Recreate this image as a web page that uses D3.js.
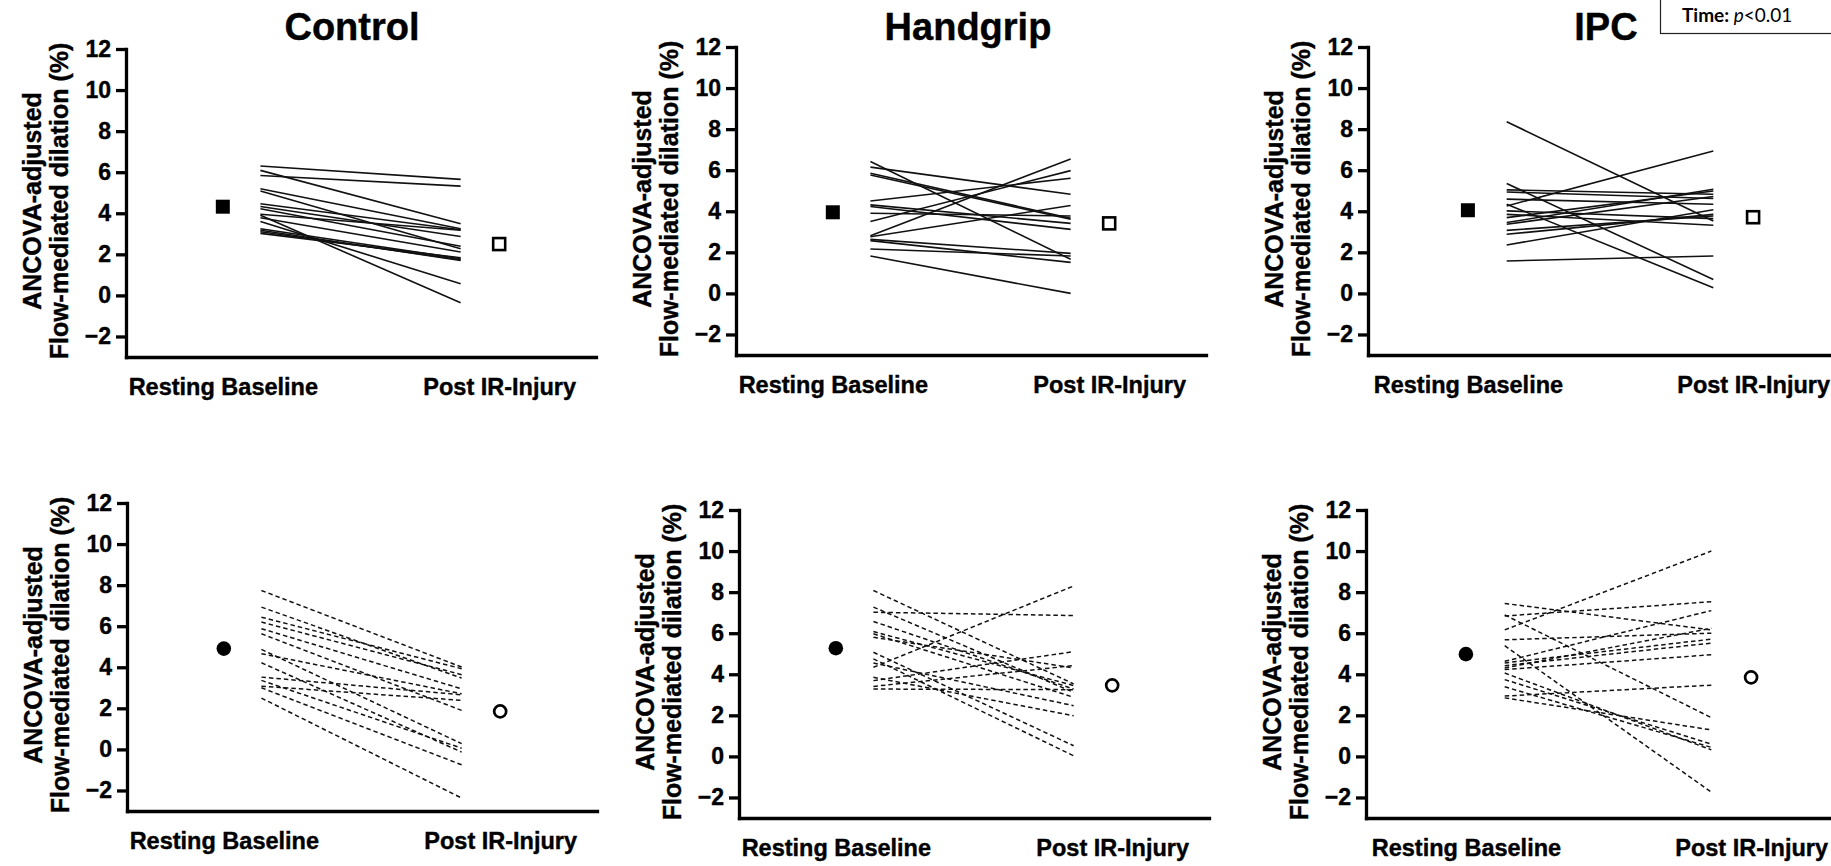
<!DOCTYPE html>
<html>
<head>
<meta charset="utf-8">
<script src="https://cdn.jsdelivr.net/npm/d3@7"></script>
<style>
    body { margin: 0; background: #ffffff; }
    svg { display: block; font-family: "Liberation Sans", Arial, sans-serif; }
</style>
</head>
<body>
<div id="figure_container"></div>
<script>

var groups = ['Control', 'Handgrip', 'IPC']
var categories = ['Resting Baseline', 'Post IR-Injury']
var y_ticks = [-2, 0, 2, 4, 6, 8, 10, 12]

// top row: individual subjects (solid lines)
var control_top_pre   = [6.30, 5.84, 6.09, 5.19, 5.08, 4.46, 4.33, 4.22, 3.95, 3.78, 3.60, 3.90, 3.25, 3.17, 3.10, 3.02]
var control_top_post  = [5.65, 5.32, 3.49, 3.25, 2.27, 3.20, 2.87, 2.39, 3.17, 2.11, 0.57, -0.36, 1.79, 1.70, 1.74, 1.83]
var handgrip_top_pre  = [6.42, 6.15, 5.85, 5.77, 4.50, 4.31, 4.23, 3.90, 3.50, 2.81, 2.76, 2.63, 2.57, 2.16, 1.82]
var handgrip_top_post = [1.66, 4.83, 3.66, 3.61, 5.61, 3.41, 3.12, 3.77, 5.98, 6.55, 4.28, 1.95, 1.51, 1.82, 0.00]
var ipc_top_pre       = [8.36, 5.35, 5.04, 4.94, 4.59, 4.34, 4.26, 4.02, 3.85, 3.69, 3.45, 3.37, 3.07, 2.88, 2.36, 1.58]
var ipc_top_post      = [3.53, 0.68, 4.83, 4.62, 4.34, 0.28, 6.94, 3.64, 3.32, 4.99, 5.07, 4.72, 3.77, 3.85, 4.07, 1.82]

// bottom row: individual subjects (dashed lines)
var control_bottom_pre   = [7.74, 6.93, 6.44, 6.20, 5.88, 5.63, 4.87, 4.66, 4.22, 3.52, 3.36, 3.08, 3.00, 2.50]
var control_bottom_post  = [4.01, 3.47, 3.93, 3.64, 2.95, 1.90, 0.28, 2.71, -0.13, 2.66, 0.06, 2.39, -0.75, -2.37]
var handgrip_bottom_pre  = [8.08, 7.27, 7.02, 6.57, 6.08, 5.97, 5.80, 5.07, 4.75, 4.55, 4.34, 3.85, 3.69, 3.41, 3.28]
var handgrip_bottom_post = [3.53, 3.12, 6.86, 3.28, 3.45, 2.88, 4.31, 0.52, 0.03, 2.47, 8.30, 1.98, 5.10, 4.42, 3.25]
var ipc_bottom_pre       = [7.45, 6.89, 6.84, 6.16, 5.68, 5.39, 4.63, 4.55, 4.42, 4.31, 4.23, 4.06, 3.74, 3.39, 2.94, 2.85]
var ipc_bottom_post      = [6.16, 1.89, 7.53, 10.0, 6.00, -1.74, 7.10, 5.71, 5.52, 6.24, 4.95, 0.32, 0.60, 0.44, 3.47, 1.29]

// group means (markers)
var means_top_pre     = [4.32, 3.95, 4.05]
var means_top_post    = [2.50, 3.41, 3.71]
var means_bottom_pre  = [4.91, 5.27, 4.98]
var means_bottom_post = [1.85, 3.46, 3.85]


var width = 1831,
    height = 866,
    plot_height = 308

// x positions inside every panel (domain 0..5)
var x_mean_pre = 1.03, x_line_pre = 1.43, x_line_post = 3.56, x_mean_post = 3.97

var svg = d3.select("#figure_container")
                .append("svg")
                .attr("width", width)
                .attr("height", height)

var panels = [
    {g: 0, row: 'top', pre: control_top_pre, post: control_top_post, left: 126, top: 49, w: 470, title_dx: 226},
    {g: 1, row: 'top', pre: handgrip_top_pre, post: handgrip_top_post, left: 736, top: 47, w: 470, title_dx: 232},
    {g: 2, row: 'top', pre: ipc_top_pre, post: ipc_top_post, left: 1368, top: 47, w: 485, title_dx: 238},
    {g: 0, row: 'bottom', pre: control_bottom_pre, post: control_bottom_post, left: 127, top: 503, w: 470},
    {g: 1, row: 'bottom', pre: handgrip_bottom_pre, post: handgrip_bottom_post, left: 739, top: 510, w: 470},
    {g: 2, row: 'bottom', pre: ipc_bottom_pre, post: ipc_bottom_post, left: 1366, top: 510, w: 485}
]

function bold_text(sel, size){
    sel.attr("font-family", "'Liberation Sans', Arial, sans-serif")
        .attr("font-size", size)
        .attr("font-weight", "bold")
        .attr("fill", "#000")
        .attr("stroke", "#000")
        .attr("stroke-width", 0.4)
}

function draw_panel(p){

    var g = svg.append("g")
                .attr("transform", "translate(" + p.left + "," + p.top + ")")

    var x = d3.scaleLinear()
                .domain([0, 5])
                .range([0, p.w])

    var y = d3.scaleLinear()
                .domain([-3, 12])
                .range([plot_height, 0])

    // subject lines
    g.selectAll(".subject_line")
        .data(p.pre.map(function(d, i){ return [d, p.post[i]] }))
        .enter()
        .append("line")
            .attr("class", "subject_line")
            .attr("x1", x(x_line_pre))
            .attr("x2", x(x_line_post))
            .attr("y1", function(d){ return y(d[0]) })
            .attr("y2", function(d){ return y(d[1]) })
            .attr("stroke", "#111")
            .attr("stroke-width", p.row == 'top' ? 1.6 : 1.5)
            .attr("stroke-dasharray", p.row == 'top' ? null : "4.5,3")

    // mean markers
    var m_pre = p.row == 'top' ? means_top_pre[p.g] : means_bottom_pre[p.g]
    var m_post = p.row == 'top' ? means_top_post[p.g] : means_bottom_post[p.g]

    if(p.row == 'top'){
        g.append("rect")
            .attr("x", x(x_mean_pre) - 7).attr("y", y(m_pre) - 7)
            .attr("width", 14).attr("height", 14)
            .attr("fill", "#000")
        g.append("rect")
            .attr("x", x(x_mean_post) - 6).attr("y", y(m_post) - 6)
            .attr("width", 12).attr("height", 12)
            .attr("fill", "#fff").attr("stroke", "#000").attr("stroke-width", 2.6)
    }else{
        g.append("circle")
            .attr("cx", x(x_mean_pre)).attr("cy", y(m_pre)).attr("r", 7.3)
            .attr("fill", "#000")
        g.append("circle")
            .attr("cx", x(x_mean_post)).attr("cy", y(m_post)).attr("r", 6)
            .attr("fill", "#fff").attr("stroke", "#000").attr("stroke-width", 2.7)
    }

    // Y axis
    var y_axis = g.append("g")
        .call(d3.axisLeft(y).tickValues(y_ticks).tickSize(10).tickSizeOuter(0).tickPadding(5))
    y_axis.selectAll("path, line").attr("stroke", "#000").attr("stroke-width", 3.3)
    y_axis.select(".domain").attr("stroke-linecap", "square")
    bold_text(y_axis.selectAll("text"), 23)

    // X axis
    var x_axis = g.append("g")
        .attr("transform", "translate(0," + plot_height + ")")
        .call(d3.axisBottom(x)
                .tickValues([x_mean_pre, x_mean_post])
                .tickSize(0).tickSizeOuter(0).tickPadding(21)
                .tickFormat(function(d, i){ return categories[i] }))
    x_axis.select(".domain").attr("stroke", "#000").attr("stroke-width", 3.3).attr("stroke-linecap", "square")
    bold_text(x_axis.selectAll("text"), 23.5)

    // Y axis title (two lines)
    bold_text(g.append("text")
        .attr("transform", "translate(-85," + (plot_height / 2 - 2) + ") rotate(-90)")
        .attr("text-anchor", "middle")
        .text("ANCOVA-adjusted"), 25)
    bold_text(g.append("text")
        .attr("transform", "translate(-58," + (plot_height / 2 - 2) + ") rotate(-90)")
        .attr("text-anchor", "middle")
        .text("Flow-mediated dilation (%)"), 25)

    // group title only on top row
    if(p.row == 'top'){
        bold_text(g.append("text")
            .attr("x", p.title_dx).attr("y", 40 - p.top)
            .attr("text-anchor", "middle")
            .text(groups[p.g]), 38)
    }
}

for(i=0; i<panels.length; i++){
    draw_panel(panels[i])
}

// statistics box (cut by the top-right edge)
svg.append("rect")
    .attr("x", 1660.5).attr("y", -10)
    .attr("width", 200).attr("height", 43.5)
    .attr("fill", "#fff").attr("stroke", "#222").attr("stroke-width", 1.2)

var stat_text = svg.append("text")
    .attr("x", 1682).attr("y", 22)
    .attr("font-family", "Lato, 'Liberation Sans', sans-serif")
    .attr("font-size", 19)
stat_text.append("tspan").attr("font-weight", "bold").text("Time: ")
stat_text.append("tspan").attr("font-style", "italic").text("p")
stat_text.append("tspan").text("<0.01")

</script>
</body>
</html>
